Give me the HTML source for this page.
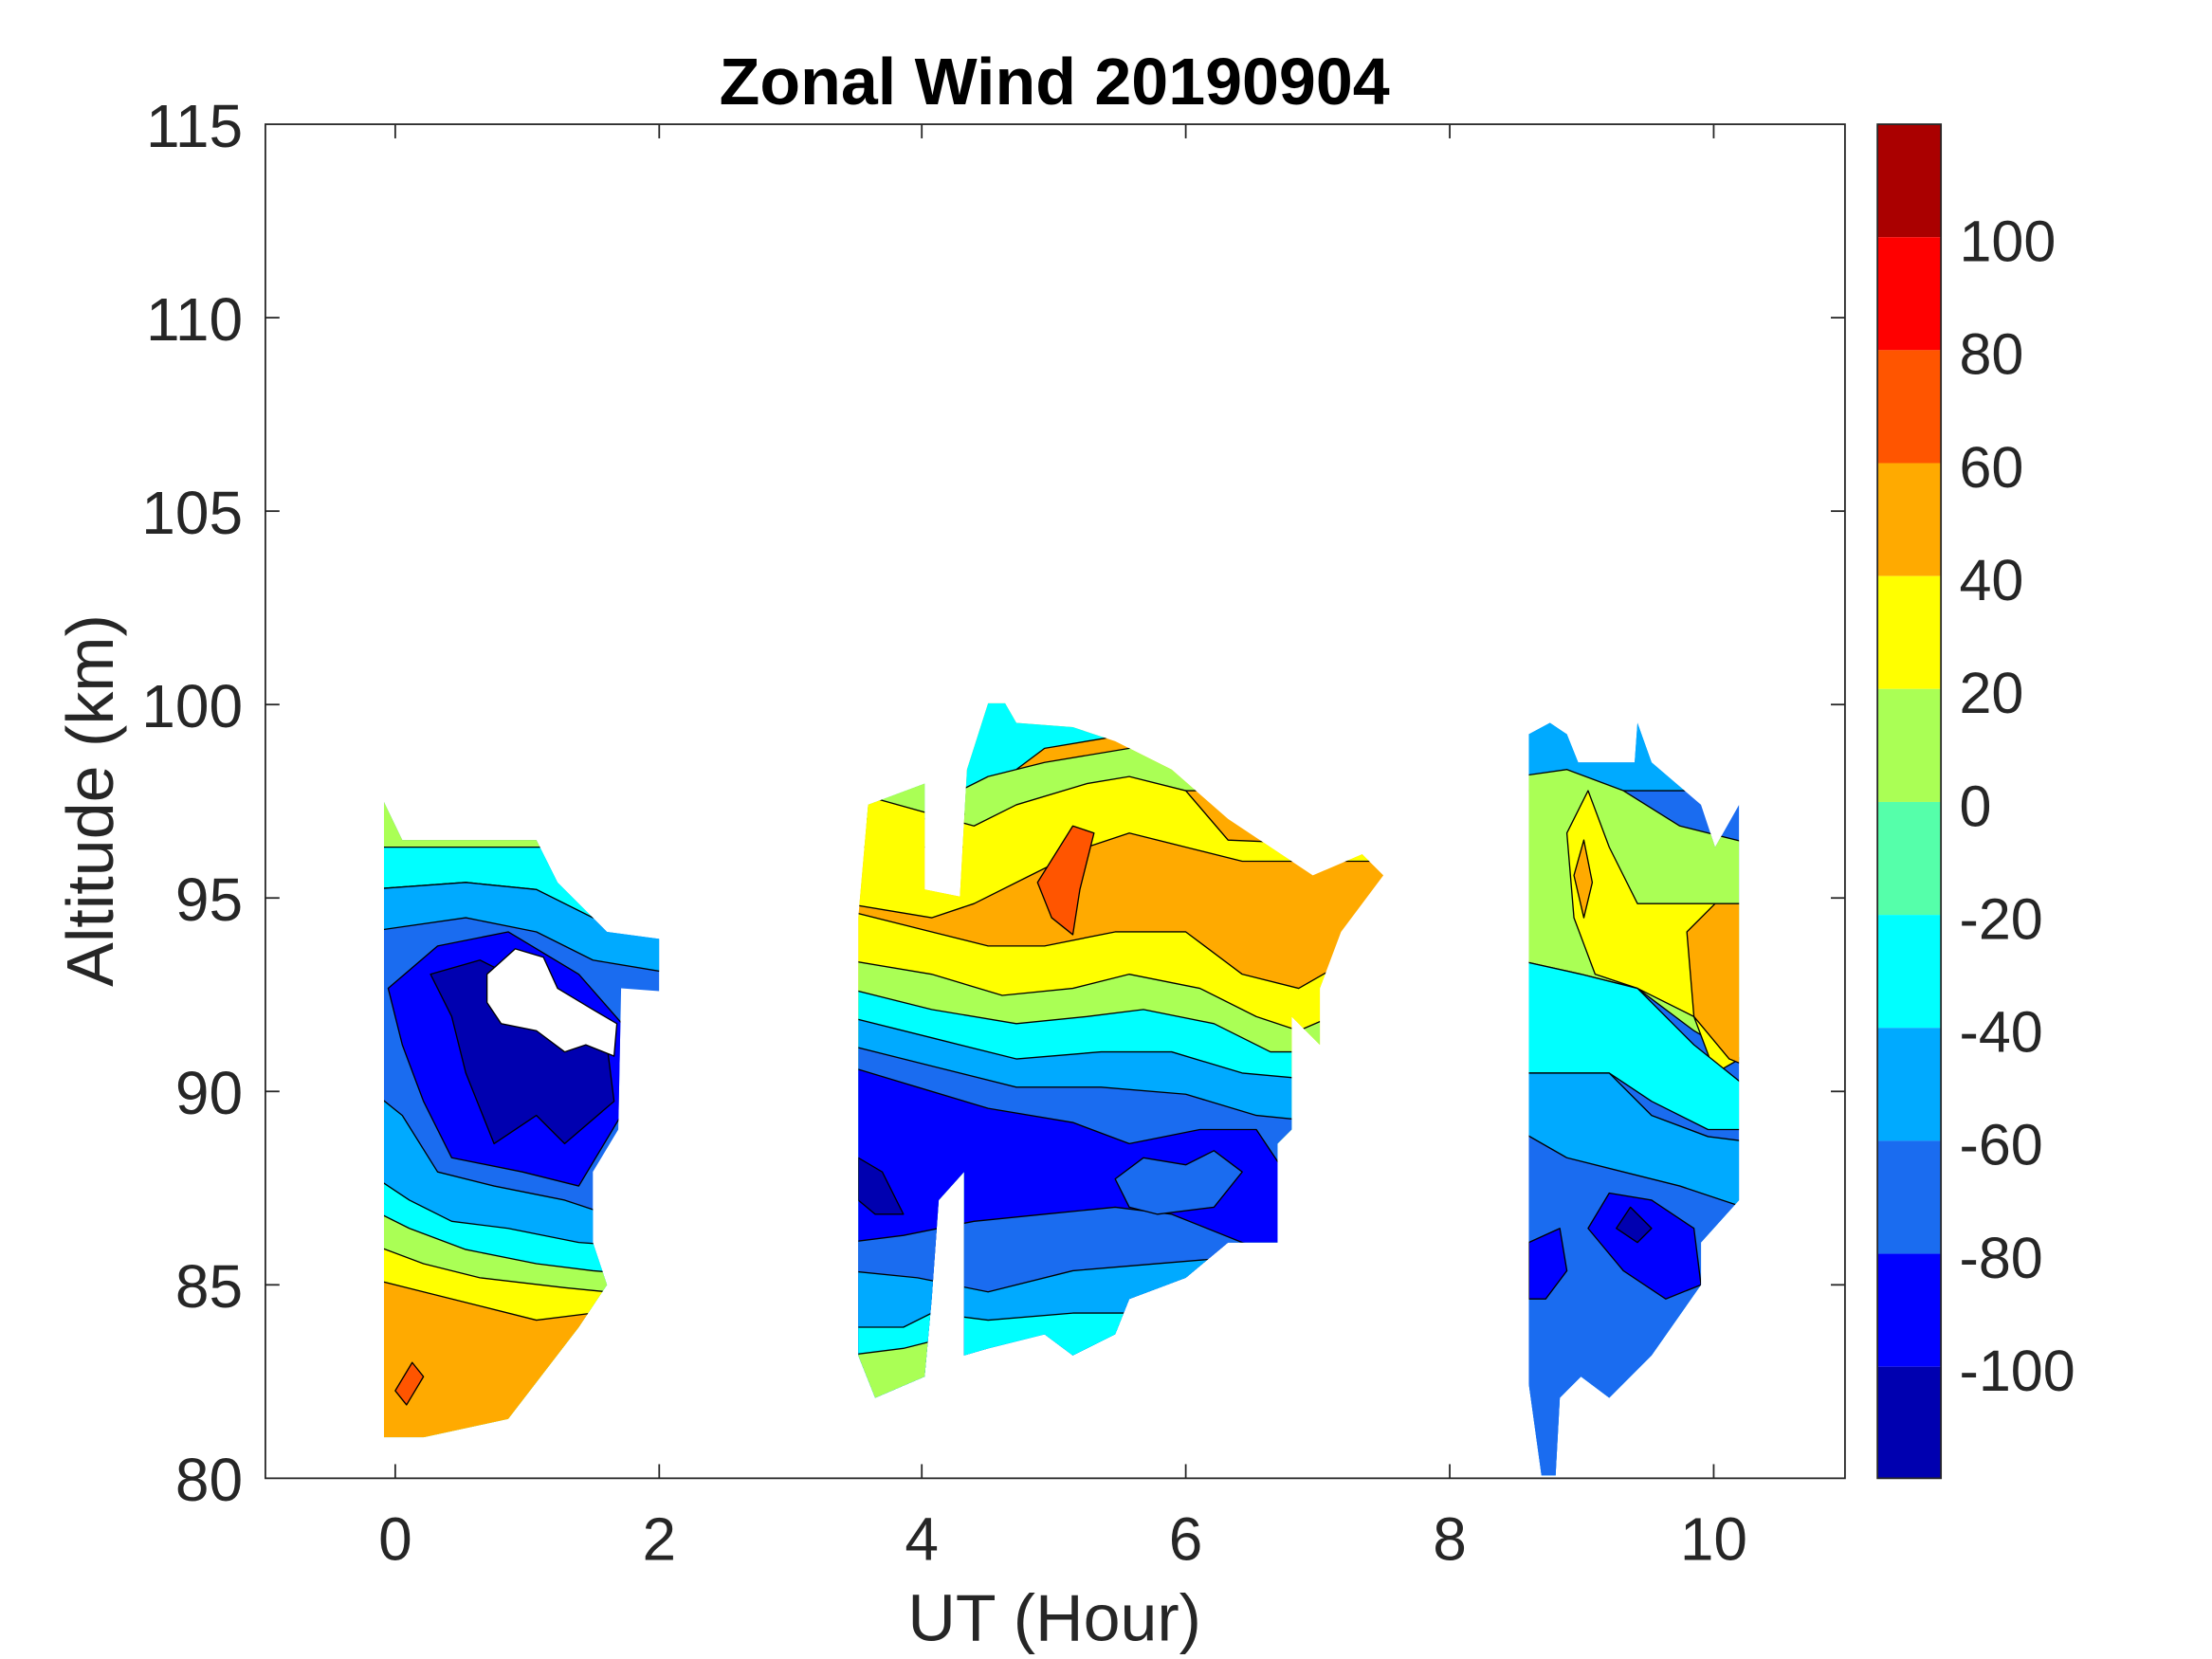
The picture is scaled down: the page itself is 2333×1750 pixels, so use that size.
<!DOCTYPE html>
<html><head><meta charset="utf-8"><style>
html,body{margin:0;padding:0;background:#fff}
svg{display:block}
text{font-family:"Liberation Sans",Arial,sans-serif;fill:#262626}
</style></head><body>
<svg width="2333" height="1750" viewBox="0 0 1567 1175" preserveAspectRatio="none" xmlns="http://www.w3.org/2000/svg">
<defs>
<clipPath id="c1"><polygon points="272,568 285,595 380,595 395,625 430,660 467,665 467,702 440,700 438,800 420,830 420,880 430,910 410,940 360,1005 300,1018 272,1018"/></clipPath>
<clipPath id="c2"><polygon points="608,650 615,570 655,555 655,630 680,635 685,545 700,498 712,498 720,512 760,515 790,525 830,545 870,580 900,600 930,620 965,605 980,620 950,660 935,700 935,740 915,720 915,800 905,810 905,880 870,880 840,905 800,920 790,945 760,960 740,945 700,955 683,960 683,830 665,850 660,920 655,975 620,990 608,960"/></clipPath>
<clipPath id="c3"><polygon points="1083,520 1098,512 1110,520 1118,540 1158,540 1160,512 1170,540 1205,570 1215,600 1232,570 1232,850 1205,880 1205,910 1170,960 1140,990 1120,975 1105,990 1102,1045 1092,1045 1083,980"/></clipPath>
</defs>
<rect x="188" y="88" width="1119" height="959" fill="#fff" stroke="#262626" stroke-width="1.2"/>
<g stroke="#000" stroke-width="0.9" stroke-linejoin="round">
<g clip-path="url(#c1)">
<rect x="260" y="550" width="230" height="480" fill="#1a6cf0"/>
<polygon points="260,550 480,550 480,600 260,600" fill="#aaff55"/>
<polygon points="260,600 480,600 480,640 420,650 380,630 330,625 260,630" fill="#00ffff"/>
<polygon points="260,630 330,625 380,630 420,650 480,660 480,690 420,680 380,660 330,650 260,660" fill="#00aaff"/>
<polygon points="275,700 310,670 360,660 410,690 445,730 440,790 410,840 370,830 320,820 300,780 285,740" fill="#0000ff"/>
<polygon points="305,690 340,680 380,700 430,740 435,780 400,810 380,790 350,810 330,760 320,720" fill="#0000b0"/>
<polygon points="260,770 285,790 310,830 350,840 400,850 430,860 480,870 480,1030 260,1030" fill="#00aaff"/>
<polygon points="260,830 290,850 320,865 360,870 410,880 480,885 480,1030 260,1030" fill="#00ffff"/>
<polygon points="260,855 290,870 330,885 380,895 420,900 480,905 480,1030 260,1030" fill="#aaff55"/>
<polygon points="260,880 300,895 340,905 400,912 480,920 480,1030 260,1030" fill="#ffff00"/>
<polygon points="260,905 300,915 340,925 380,935 420,930 480,940 480,1030 260,1030" fill="#ffaa00"/>
<polygon points="280,985 292,965 300,975 288,995" fill="#ff5500"/>
</g>
<polygon points="345,690 365,672 385,678 395,700 420,715 437,725 435,748 415,740 400,745 380,730 355,725 345,710" fill="#fff" stroke="#000"/>
<g clip-path="url(#c2)">
<rect x="600" y="490" width="390" height="510" fill="#ffaa00"/>
<polygon points="600,490 990,490 990,520 800,520 740,530 700,560 680,580 600,580" fill="#00ffff"/>
<polygon points="600,540 680,560 700,550 740,540 800,530 990,530 990,560 850,560 800,560 760,565 720,585 690,600 600,600" fill="#aaff55"/>
<polygon points="600,560 690,585 720,570 770,555 800,550 840,560 870,595 990,600 990,610 880,610 840,600 800,590 770,600 730,620 690,640 660,650 600,640" fill="#ffff00"/>
<polygon points="735,625 760,585 775,590 765,630 760,662 745,650" fill="#ff5500"/>
<polygon points="600,645 660,660 700,670 740,670 790,660 840,660 880,690 920,700 990,660 990,1000 600,1000" fill="#ffff00"/>
<polygon points="600,680 660,690 710,705 760,700 800,690 850,700 890,720 920,730 990,700 990,1000 600,1000" fill="#aaff55"/>
<polygon points="600,700 660,715 720,725 770,720 810,715 860,725 900,745 990,745 990,1000 600,1000" fill="#00ffff"/>
<polygon points="600,720 660,735 720,750 780,745 830,745 880,760 990,770 990,1000 600,1000" fill="#00aaff"/>
<polygon points="600,740 660,755 720,770 780,770 840,775 890,790 990,800 990,1000 600,1000" fill="#1a6cf0"/>
<polygon points="600,755 650,770 700,785 760,795 800,810 850,800 890,800 910,830 910,1000 600,1000" fill="#0000ff"/>
<polygon points="600,880 640,875 690,865 740,860 790,855 830,860 880,880 910,890 910,1000 600,1000" fill="#1a6cf0"/>
<polygon points="600,900 650,905 700,915 760,900 820,895 880,890 910,900 910,1000 600,1000" fill="#00aaff"/>
<polygon points="600,940 640,940 660,930 700,935 760,930 820,930 910,920 910,1000 600,1000" fill="#00ffff"/>
<polygon points="600,960 640,955 660,950 700,1000 600,1000" fill="#aaff55"/>
<polygon points="608,820 625,830 640,860 620,860 608,850" fill="#0000b0"/>
<polygon points="790,835 810,820 840,825 860,815 880,830 860,855 820,860 800,855" fill="#1a6cf0"/>
</g>
<g clip-path="url(#c3)">
<rect x="1075" y="500" width="170" height="550" fill="#1a6cf0"/>
<polygon points="1075,500 1250,500 1250,560 1075,560" fill="#00aaff"/>
<polygon points="1075,550 1110,545 1150,560 1190,585 1250,600 1250,760 1200,730 1160,700 1120,690 1075,680" fill="#aaff55"/>
<polygon points="1110,590 1125,560 1140,600 1160,640 1200,640 1250,640 1250,740 1215,760 1200,720 1160,700 1130,690 1115,650" fill="#ffff00"/>
<polygon points="1195,660 1215,640 1250,640 1250,760 1225,750 1200,720" fill="#ffaa00"/>
<polygon points="1115,620 1122,595 1128,625 1122,650" fill="#ffaa00"/>
<polygon points="1075,680 1120,690 1160,700 1200,740 1250,780 1250,800 1210,800 1170,780 1140,760 1075,760" fill="#00ffff"/>
<polygon points="1075,760 1140,760 1170,790 1210,805 1250,810 1250,1050 1075,1050" fill="#00aaff"/>
<polygon points="1075,800 1110,820 1150,830 1190,840 1220,850 1250,860 1250,1050 1075,1050" fill="#1a6cf0"/>
<polygon points="1083,880 1105,870 1110,900 1095,920 1083,920" fill="#0000ff"/>
<polygon points="1125,870 1140,845 1170,850 1200,870 1205,910 1180,920 1150,900" fill="#0000ff"/>
<polygon points="1145,870 1155,855 1170,870 1160,880" fill="#0000b0"/>
</g>
</g>
<g stroke="#262626" stroke-width="1.2">
<line x1="280" y1="1047" x2="280" y2="1037"/><line x1="467" y1="1047" x2="467" y2="1037"/><line x1="653" y1="1047" x2="653" y2="1037"/><line x1="840" y1="1047" x2="840" y2="1037"/><line x1="1027" y1="1047" x2="1027" y2="1037"/><line x1="1214" y1="1047" x2="1214" y2="1037"/>
<line x1="280" y1="88" x2="280" y2="98"/><line x1="467" y1="88" x2="467" y2="98"/><line x1="653" y1="88" x2="653" y2="98"/><line x1="840" y1="88" x2="840" y2="98"/><line x1="1027" y1="88" x2="1027" y2="98"/><line x1="1214" y1="88" x2="1214" y2="98"/>
<line x1="188" y1="910" x2="198" y2="910"/><line x1="188" y1="773" x2="198" y2="773"/><line x1="188" y1="636" x2="198" y2="636"/><line x1="188" y1="499" x2="198" y2="499"/><line x1="188" y1="362" x2="198" y2="362"/><line x1="188" y1="225" x2="198" y2="225"/>
<line x1="1307" y1="910" x2="1297" y2="910"/><line x1="1307" y1="773" x2="1297" y2="773"/><line x1="1307" y1="636" x2="1297" y2="636"/><line x1="1307" y1="499" x2="1297" y2="499"/><line x1="1307" y1="362" x2="1297" y2="362"/><line x1="1307" y1="225" x2="1297" y2="225"/>
</g>
<g font-size="43" text-anchor="middle">
<text x="280" y="1105">0</text><text x="467" y="1105">2</text><text x="653" y="1105">4</text><text x="840" y="1105">6</text><text x="1027" y="1105">8</text><text x="1214" y="1105">10</text>
</g>
<g font-size="43" text-anchor="end">
<text x="172" y="1063">80</text><text x="172" y="926">85</text><text x="172" y="789">90</text><text x="172" y="652">95</text><text x="172" y="515">100</text><text x="172" y="378">105</text><text x="172" y="241">110</text><text x="172" y="104">115</text>
</g>
<text x="747" y="1162" font-size="47" text-anchor="middle">UT (Hour)</text>
<text transform="translate(80,567) rotate(-90)" font-size="47" text-anchor="middle">Altitude (km)</text>
<text x="747" y="74" font-size="47" font-weight="bold" text-anchor="middle" style="fill:#000">Zonal Wind 20190904</text>
<g>
<rect x="1330" y="88" width="45" height="80" fill="#aa0000"/>
<rect x="1330" y="168" width="45" height="80" fill="#ff0000"/>
<rect x="1330" y="248" width="45" height="80" fill="#ff5500"/>
<rect x="1330" y="328" width="45" height="80" fill="#ffaa00"/>
<rect x="1330" y="408" width="45" height="80" fill="#ffff00"/>
<rect x="1330" y="488" width="45" height="80" fill="#aaff55"/>
<rect x="1330" y="568" width="45" height="80" fill="#55ffaa"/>
<rect x="1330" y="648" width="45" height="80" fill="#00ffff"/>
<rect x="1330" y="728" width="45" height="80" fill="#00aaff"/>
<rect x="1330" y="808" width="45" height="80" fill="#1a6cf0"/>
<rect x="1330" y="888" width="45" height="80" fill="#0000ff"/>
<rect x="1330" y="968" width="45" height="79" fill="#0000b0"/>
<rect x="1330" y="88" width="45" height="959" fill="none" stroke="#262626" stroke-width="1.2"/>
</g>
<g font-size="41">
<text x="1388" y="185">100</text><text x="1388" y="265">80</text><text x="1388" y="345">60</text><text x="1388" y="425">40</text><text x="1388" y="505">20</text><text x="1388" y="585">0</text><text x="1388" y="665">-20</text><text x="1388" y="745">-40</text><text x="1388" y="825">-60</text><text x="1388" y="905">-80</text><text x="1388" y="985">-100</text>
</g>
</svg>
</body></html>
